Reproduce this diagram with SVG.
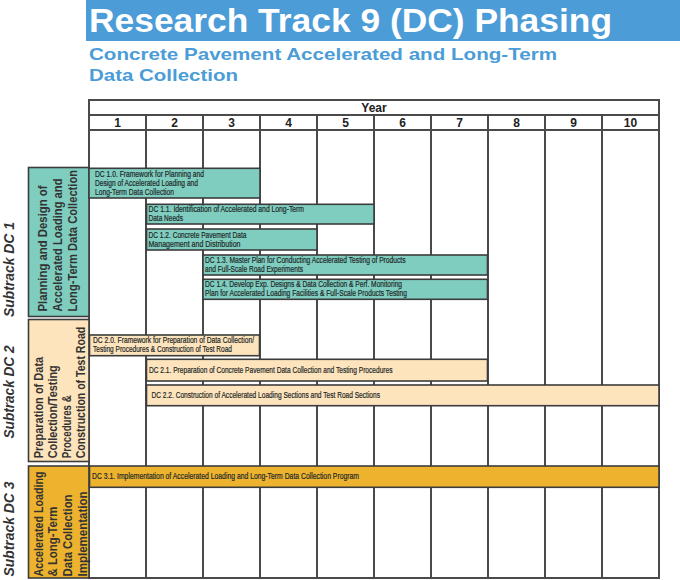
<svg xmlns="http://www.w3.org/2000/svg" width="680" height="580" viewBox="0 0 680 580">
<style>
.grid{stroke:#4a4a4a;stroke-width:2;fill:none}
.bar{stroke:#3c3c3c;stroke-width:1.6}
.teal{fill:#7fcdbf}
.peach{fill:#fde4bd}
.gold{fill:#edb32f}
.bt{font-family:"Liberation Sans",Arial,sans-serif;font-size:8.5px;fill:#1f2929;stroke:#1f2929;stroke-width:0.2}
.side{font-family:"Liberation Sans",Arial,sans-serif;font-size:12.8px;font-weight:bold;fill:#333}
.sub{font-family:"Liberation Sans",Arial,sans-serif;font-size:15px;font-weight:bold;font-style:italic;fill:#333}
.hdr{font-family:"Liberation Sans",Arial,sans-serif;font-size:12px;font-weight:bold;fill:#222;text-anchor:middle}
</style>
<rect x="0" y="0" width="680" height="580" fill="#ffffff"/>
<g id="title">
<rect x="86" y="0" width="594" height="41" fill="#4b9cd7"/>
<text x="89" y="32" font-family="Liberation Sans, Arial, sans-serif" font-size="34" font-weight="bold" fill="#ffffff" textLength="523" lengthAdjust="spacingAndGlyphs">Research Track 9 (DC) Phasing</text>
<text x="89" y="60" font-family="Liberation Sans, Arial, sans-serif" font-size="16.5" font-weight="bold" fill="#4b9cd7" textLength="468" lengthAdjust="spacingAndGlyphs">Concrete Pavement Accelerated and Long-Term</text>
<text x="89" y="80.5" font-family="Liberation Sans, Arial, sans-serif" font-size="16.5" font-weight="bold" fill="#4b9cd7" textLength="149" lengthAdjust="spacingAndGlyphs">Data Collection</text>
</g>
<g id="grid">
<rect class="grid" x="89" y="100" width="570" height="478"/>
<line class="grid" x1="89" y1="115" x2="659" y2="115"/>
<line class="grid" x1="89" y1="130" x2="659" y2="130"/>
<line class="grid" x1="146" y1="115" x2="146" y2="578"/>
<line class="grid" x1="203" y1="115" x2="203" y2="578"/>
<line class="grid" x1="260" y1="115" x2="260" y2="578"/>
<line class="grid" x1="317" y1="115" x2="317" y2="578"/>
<line class="grid" x1="374" y1="115" x2="374" y2="578"/>
<line class="grid" x1="431" y1="115" x2="431" y2="578"/>
<line class="grid" x1="488" y1="115" x2="488" y2="578"/>
<line class="grid" x1="545" y1="115" x2="545" y2="578"/>
<line class="grid" x1="602" y1="115" x2="602" y2="578"/>
<text class="hdr" x="374" y="111.5" font-size="11">Year</text>
<text class="hdr" x="117.5" y="127">1</text>
<text class="hdr" x="174.5" y="127">2</text>
<text class="hdr" x="231.5" y="127">3</text>
<text class="hdr" x="288.5" y="127">4</text>
<text class="hdr" x="345.5" y="127">5</text>
<text class="hdr" x="402.5" y="127">6</text>
<text class="hdr" x="459.5" y="127">7</text>
<text class="hdr" x="516.5" y="127">8</text>
<text class="hdr" x="573.5" y="127">9</text>
<text class="hdr" x="630.5" y="127">10</text>
</g>
<g id="subtrack-labels">
<text class="sub" transform="translate(13.5,317) rotate(-90)" textLength="95" lengthAdjust="spacingAndGlyphs">Subtrack DC 1</text>
<text class="sub" transform="translate(13.5,438.5) rotate(-90)" textLength="93" lengthAdjust="spacingAndGlyphs">Subtrack DC 2</text>
<text class="sub" transform="translate(13.5,576.5) rotate(-90)" textLength="95" lengthAdjust="spacingAndGlyphs">Subtrack DC 3</text>
</g>
<g id="box-dc1">
<rect class="bar teal" x="28.5" y="167.5" width="60.5" height="149"/>
<text class="side" transform="translate(46.5,311.5) rotate(-90)" textLength="126" lengthAdjust="spacingAndGlyphs">Planning and Design of</text>
<text class="side" transform="translate(61.5,311.5) rotate(-90)" textLength="133" lengthAdjust="spacingAndGlyphs">Accelerated Loading and</text>
<text class="side" transform="translate(76.5,311.5) rotate(-90)" textLength="141.5" lengthAdjust="spacingAndGlyphs">Long-Term Data Collection</text>
</g>
<g id="box-dc2">
<rect class="bar peach" x="28.5" y="319.5" width="60.5" height="142"/>
<text class="side" transform="translate(42.5,458.3) rotate(-90)" textLength="101.5" lengthAdjust="spacingAndGlyphs">Preparation of Data</text>
<text class="side" transform="translate(56.5,458.3) rotate(-90)" textLength="93" lengthAdjust="spacingAndGlyphs">Collection/Testing</text>
<text class="side" transform="translate(70.5,458.3) rotate(-90)" textLength="63" lengthAdjust="spacingAndGlyphs">Procedures &amp;</text>
<text class="side" transform="translate(85,458.3) rotate(-90)" textLength="131.5" lengthAdjust="spacingAndGlyphs">Construction of Test Road</text>
</g>
<g id="box-dc3">
<rect class="bar gold" x="28.5" y="466" width="60.5" height="112"/>
<text class="side" transform="translate(42.5,576.5) rotate(-90)" textLength="105" lengthAdjust="spacingAndGlyphs">Accelerated Loading</text>
<text class="side" transform="translate(57,576.5) rotate(-90)" textLength="70" lengthAdjust="spacingAndGlyphs">&amp; Long-Term</text>
<text class="side" transform="translate(71.5,576.5) rotate(-90)" textLength="82" lengthAdjust="spacingAndGlyphs">Data Collection</text>
<text class="side" transform="translate(86.5,576.5) rotate(-90)" textLength="85" lengthAdjust="spacingAndGlyphs">Implementation</text>
</g>
<g id="dc-1-0">
<rect class="bar teal" x="89" y="168.3" width="171" height="29.7"/>
<text class="bt" x="95" y="176.7" textLength="109" lengthAdjust="spacingAndGlyphs">DC 1.0.  Framework for Planning and</text>
<text class="bt" x="95" y="185.7" textLength="103" lengthAdjust="spacingAndGlyphs">Design of Accelerated Loading and</text>
<text class="bt" x="95" y="194.5" textLength="79" lengthAdjust="spacingAndGlyphs">Long-Term Data Collection</text>
</g>
<g id="dc-1-1">
<rect class="bar teal" x="146.5" y="204.3" width="227.5" height="19.7"/>
<text class="bt" x="148.5" y="211.7" textLength="155.5" lengthAdjust="spacingAndGlyphs">DC 1.1.  Identification of Accelerated and Long-Term</text>
<text class="bt" x="148.5" y="220.7" textLength="34.5" lengthAdjust="spacingAndGlyphs">Data Needs</text>
</g>
<g id="dc-1-2">
<rect class="bar teal" x="146.5" y="229" width="170.5" height="21"/>
<text class="bt" x="148.5" y="238.3" textLength="98" lengthAdjust="spacingAndGlyphs">DC 1.2.  Concrete Pavement Data</text>
<text class="bt" x="148.5" y="247.3" textLength="92" lengthAdjust="spacingAndGlyphs">Management and Distribution</text>
</g>
<g id="dc-1-3">
<rect class="bar teal" x="203" y="255" width="284.5" height="20"/>
<text class="bt" x="205" y="262.7" textLength="200.5" lengthAdjust="spacingAndGlyphs">DC 1.3.  Master Plan for Conducting Accelerated Testing of Products</text>
<text class="bt" x="205" y="271.7" textLength="98" lengthAdjust="spacingAndGlyphs">and Full-Scale Road Experiments</text>
</g>
<g id="dc-1-4">
<rect class="bar teal" x="203" y="279.3" width="284.5" height="20"/>
<text class="bt" x="205" y="287" textLength="197" lengthAdjust="spacingAndGlyphs">DC 1.4.  Develop Exp. Designs &amp; Data Collection &amp; Perf. Monitoring</text>
<text class="bt" x="205" y="296" textLength="202" lengthAdjust="spacingAndGlyphs">Plan for Accelerated Loading Facilities &amp; Full-Scale Products Testing</text>
</g>
<g id="dc-2-0">
<rect class="bar peach" x="89.5" y="335" width="170" height="20.7"/>
<text class="bt" x="93" y="343.3" textLength="161" lengthAdjust="spacingAndGlyphs">DC 2.0.  Framework for Preparation of Data Collection/</text>
<text class="bt" x="93" y="352.3" textLength="139" lengthAdjust="spacingAndGlyphs">Testing Procedures &amp; Construction of Test Road</text>
</g>
<g id="dc-2-1">
<rect class="bar peach" x="146.5" y="359.3" width="341" height="21.7"/>
<text class="bt" x="149" y="372.7" textLength="243.5" lengthAdjust="spacingAndGlyphs">DC 2.1.  Preparation of Concrete Pavement Data Collection and Testing Procedures</text>
</g>
<g id="dc-2-2">
<rect class="bar peach" x="146.5" y="385" width="512.5" height="20.7"/>
<text class="bt" x="151.5" y="397.5" textLength="228.5" lengthAdjust="spacingAndGlyphs">DC 2.2.  Construction of Accelerated Loading Sections and Test Road Sections</text>
</g>
<g id="dc-3-1">
<rect class="bar gold" x="89.5" y="466" width="569.5" height="21.3"/>
<text class="bt" x="92" y="479.3" textLength="267" lengthAdjust="spacingAndGlyphs">DC 3.1.  Implementation of Accelerated Loading and Long-Term Data Collection Program</text>
</g>
</svg>
